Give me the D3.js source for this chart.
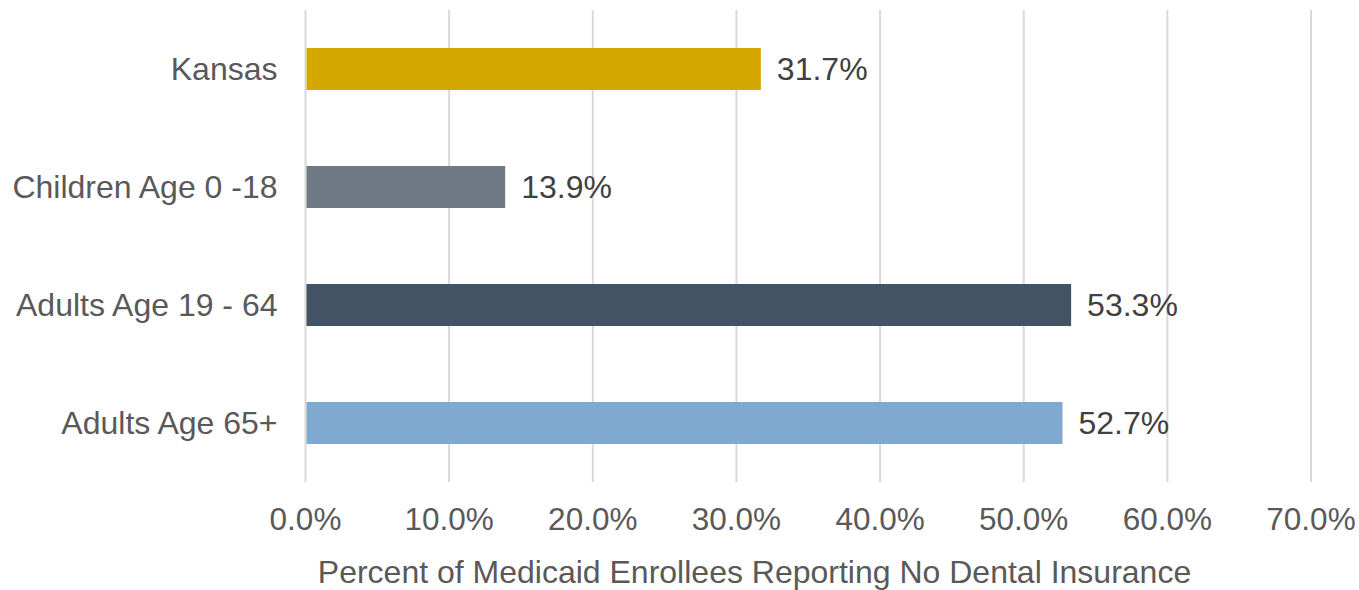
<!DOCTYPE html>
<html>
<head>
<meta charset="utf-8">
<script src="https://cdn.jsdelivr.net/npm/d3@7"></script>
<style>
  html, body { margin: 0; padding: 0; background: #fff; }
  svg { display: block; font-family: "Liberation Sans", Arial, sans-serif; }
</style>
</head>
<body>
<div id="chart"></div>
<script>
// Medicaid enrollees reporting no dental insurance, by group
const groups = ['Kansas', 'Children Age 0 -18', 'Adults Age 19 - 64', 'Adults Age 65+'];
const values = [31.7, 13.9, 53.3, 52.7];
const colors = ['#d4a800', '#707a87', '#415365', '#7fa9cf'];
const ticks = [0, 10, 20, 30, 40, 50, 60, 70];
const axisTitle = 'Percent of Medicaid Enrollees Reporting No Dental Insurance';

const W = 1359, H = 590;
const margin = { top: 10, right: 48, bottom: 108, left: 305.5 };

const svg = d3.select('#chart').append('svg')
  .attr('width', W).attr('height', H);

const x = d3.scaleLinear().domain([0, 70]).range([margin.left, W - margin.right]);
const y = d3.scaleBand().domain(groups)
  .range([margin.top, H - margin.bottom])
  .paddingInner(0.644).paddingOuter(0.322);

// vertical gridlines
svg.append('g')
  .selectAll('line')
  .data(ticks)
  .join('line')
  .attr('x1', d => x(d)).attr('x2', d => x(d))
  .attr('y1', margin.top).attr('y2', H - margin.bottom)
  .attr('stroke', '#d9d9d9')
  .attr('stroke-width', 2);

// bars
svg.append('g')
  .selectAll('rect')
  .data(groups)
  .join('rect')
  .attr('x', x(0) + 1)
  .attr('y', d => y(d))
  .attr('width', (d, i) => x(values[i]) - x(0) - 1)
  .attr('height', y.bandwidth())
  .attr('fill', (d, i) => colors[i]);

// value labels
svg.append('g')
  .selectAll('text')
  .data(groups)
  .join('text')
  .attr('x', (d, i) => x(values[i]) + 16)
  .attr('y', d => y(d) + y.bandwidth() / 2)
  .attr('dy', '0.34em')
  .attr('fill', '#404040')
  .attr('font-size', 32)
  .text((d, i) => values[i].toFixed(1) + '%');

// category labels
svg.append('g')
  .selectAll('text')
  .data(groups)
  .join('text')
  .attr('x', x(0) - 28)
  .attr('y', d => y(d) + y.bandwidth() / 2)
  .attr('dy', '0.33em')
  .attr('text-anchor', 'end')
  .attr('fill', '#595959')
  .attr('font-size', 32)
  .text(d => d);

// x tick labels
svg.append('g')
  .selectAll('text')
  .data(ticks)
  .join('text')
  .attr('x', d => x(d))
  .attr('y', 530)
  .attr('text-anchor', 'middle')
  .attr('fill', '#595959')
  .attr('font-size', 31.5)
  .text(d => d.toFixed(1) + '%');

// axis title
svg.append('text')
  .attr('x', (319 + 1190) / 2)
  .attr('y', 583)
  .attr('text-anchor', 'middle')
  .attr('fill', '#595959')
  .attr('font-size', 32)
  .text(axisTitle);
</script>
</body>
</html>
